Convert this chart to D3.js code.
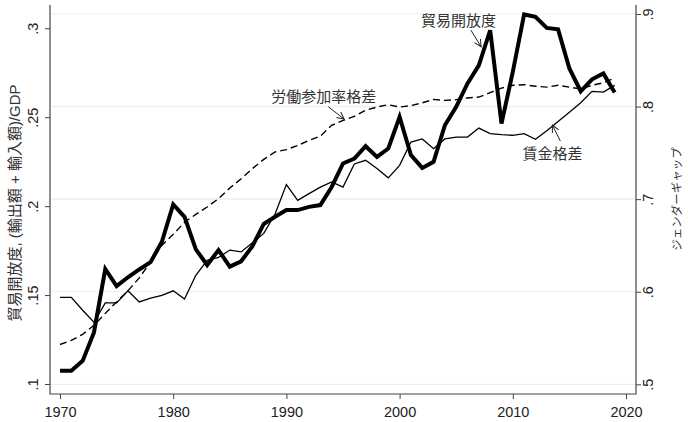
<!DOCTYPE html>
<html>
<head>
<meta charset="utf-8">
<script src="https://cdn.jsdelivr.net/npm/d3@7"></script>
<style>
  body { margin: 0; background: #fff; }
  svg { display: block; }
  text { font-family: "Liberation Sans", Arial, "Noto Sans CJK JP", sans-serif; fill: #333; }
</style>
</head>
<body>
<div id="chart"></div>
<script>
'use strict';

/***************************** data ********************************/

var years = d3.range(1970, 2020);

// 貿易開放度 (left axis)
var tradeOpenness = [
  0.1075, 0.1075, 0.113, 0.129, 0.1646, 0.155, 0.160, 0.1644, 0.1685, 0.180,
  0.201, 0.194, 0.1757, 0.1669, 0.1753, 0.166, 0.169, 0.1775, 0.190, 0.194,
  0.1978, 0.1978, 0.1996, 0.2006, 0.2108, 0.224, 0.2268, 0.2337, 0.2277, 0.2324,
  0.2502, 0.2287, 0.2215, 0.2249, 0.2455, 0.2558, 0.269, 0.2792, 0.2989, 0.2464,
  0.2755, 0.3078, 0.3064, 0.3002, 0.2994, 0.2774, 0.2646, 0.2713, 0.2746, 0.2639
];

// 賃金格差 (right axis)
var wageGap = [
  0.594, 0.594, 0.580, 0.567, 0.588, 0.588, 0.601, 0.589, 0.593, 0.596,
  0.601, 0.592, 0.6177, 0.634, 0.637, 0.645, 0.643, 0.653, 0.663, 0.684,
  0.7157, 0.6987, 0.706, 0.713, 0.7185, 0.713, 0.738, 0.742, 0.733, 0.723,
  0.7365, 0.7617, 0.765, 0.7545, 0.765, 0.767, 0.767, 0.7768, 0.7707, 0.7696,
  0.769, 0.7707, 0.7646, 0.774, 0.784, 0.794, 0.8042, 0.8164, 0.8157, 0.8229
];

// 労働参加率格差 (right axis)
var laborGap = [
  0.543, 0.5475, 0.554, 0.5637, 0.5766, 0.589, 0.601, 0.615, 0.632, 0.650,
  0.662, 0.675, 0.6836, 0.6915, 0.7005, 0.712, 0.722, 0.733, 0.743, 0.751,
  0.7535, 0.758, 0.7635, 0.768, 0.7797, 0.785, 0.7894, 0.796, 0.7995, 0.802,
  0.7995, 0.801, 0.804, 0.8078, 0.8067, 0.8075, 0.8093, 0.8103, 0.815, 0.820,
  0.823, 0.8236, 0.822, 0.821, 0.823, 0.821, 0.819, 0.823, 0.8257, 0.8308
];

var xTicks = [1970, 1980, 1990, 2000, 2010, 2020];
var leftTicks = [0.1, 0.15, 0.2, 0.25, 0.3];
var leftTickLabels = ['.1', '.15', '.2', '.25', '.3'];
var rightTicks = [0.5, 0.6, 0.7, 0.8, 0.9];
var rightTickLabels = ['.5', '.6', '.7', '.8', '.9'];

// labels with arrows, in data units (year, right axis value)
var labelText = ['貿易開放度', '労働参加率格差', '賃金格差'];
var labelPos = [[2005.2, 0.8924], [1993.3, 0.8103], [2013.5, 0.7488]];
var arrowFrom = [[2006.3, 0.8825], [1993.7, 0.7998], [2014.2, 0.7627]];
var arrowTo = [[2007.2, 0.8646], [1995.1, 0.7865], [2013.5, 0.7800]];

/**************************** layout *******************************/

var width = 688, height = 422;
var plotLeft = 50, plotRight = 636, plotTop = 5, plotBottom = 394;

var svg = d3.select('#chart').append('svg')
  .attr('width', width)
  .attr('height', height);

var x = d3.scaleLinear().domain([1970, 2020]).range([60, 626]);
var yLeft = d3.scaleLinear().domain([0.1, 0.3]).range([384, 28.3]);
var yRight = d3.scaleLinear().domain([0.5, 0.9]).range([384.3, 14]);

var axisColor = '#444';

/**************************** grid *********************************/

svg.append('g').selectAll('line')
  .data(rightTicks)
  .enter().append('line')
  .attr('x1', plotLeft + 1).attr('x2', plotRight - 1)
  .attr('y1', function(d) { return yRight(d); })
  .attr('y2', function(d) { return yRight(d); })
  .style('stroke', '#e6eff2')
  .style('stroke-width', 1.2);

/**************************** axes *********************************/

var xAxis = svg.append('g')
  .attr('transform', 'translate(0,' + plotBottom + ')')
  .call(d3.axisBottom(x).tickValues(xTicks).tickSize(5).tickFormat(d3.format('d')));
xAxis.select('.domain').remove();
xAxis.selectAll('line').style('stroke', axisColor);
xAxis.selectAll('text').style('font-size', '14.5px').attr('dy', '1.05em').style('fill', '#222');

var leftAxis = svg.append('g')
  .attr('transform', 'translate(' + plotLeft + ',0)')
  .call(d3.axisLeft(yLeft).tickValues(leftTicks).tickSize(5)
    .tickFormat(function(d, i) { return leftTickLabels[i]; }));
leftAxis.select('.domain').remove();
leftAxis.selectAll('line').style('stroke', axisColor);
leftAxis.selectAll('text')
  .attr('x', null).attr('dy', null)
  .attr('transform', 'translate(-12,0) rotate(-90)')
  .style('text-anchor', 'middle')
  .style('font-size', '14.5px').style('fill', '#222');

var rightAxis = svg.append('g')
  .attr('transform', 'translate(' + plotRight + ',0)')
  .call(d3.axisRight(yRight).tickValues(rightTicks).tickSize(5)
    .tickFormat(function(d, i) { return rightTickLabels[i]; }));
rightAxis.select('.domain').remove();
rightAxis.selectAll('line').style('stroke', axisColor);
rightAxis.selectAll('text')
  .attr('x', null).attr('dy', null)
  .attr('transform', 'translate(17,0) rotate(-90)')
  .style('text-anchor', 'middle')
  .style('font-size', '14.5px').style('fill', '#222');

// axis lines
svg.append('path')
  .attr('d', 'M' + plotLeft + ',' + plotTop + 'V' + plotBottom + 'H' + plotRight + 'V' + plotTop)
  .style('fill', 'none')
  .style('stroke', axisColor)
  .style('stroke-width', 1.2);

// axis titles
svg.append('text')
  .attr('transform', 'translate(15,' + 203 + ') rotate(-90)')
  .attr('dy', '0.35em')
  .style('text-anchor', 'middle')
  .style('font-size', '15px')
  .text('貿易開放度, (輸出額 + 輸入額)/GDP');

svg.append('text')
  .attr('transform', 'translate(677,' + 199 + ') rotate(-90)')
  .attr('dy', '0.35em')
  .style('text-anchor', 'middle')
  .style('font-size', '11.5px')
  .text('ジェンダーギャップ');

/**************************** lines ********************************/

function drawSeries(values, scale, width, dash) {
  var line = d3.line()
    .x(function(d, i) { return x(years[i]); })
    .y(function(d) { return scale(d); });
  svg.append('path')
    .datum(values)
    .attr('d', line)
    .style('fill', 'none')
    .style('stroke', '#000')
    .style('stroke-width', width)
    .style('stroke-dasharray', dash || null);
}

drawSeries(laborGap, yRight, 1.4, '7,4');
drawSeries(wageGap, yRight, 1.3);
drawSeries(tradeOpenness, yLeft, 4);

/************************** annotations ****************************/

svg.append('defs').append('marker')
  .attr('id', 'arrowHead')
  .attr('viewBox', '-10 -6 12 12')
  .attr('markerWidth', 12).attr('markerHeight', 12)
  .attr('markerUnits', 'userSpaceOnUse')
  .attr('orient', 'auto')
  .append('path')
  .attr('d', 'M-7,-3.5L0,0L-7,3.5')
  .style('fill', 'none')
  .style('stroke', '#222')
  .style('stroke-width', 1);

for (var i = 0; i < labelText.length; i++) {
  svg.append('text')
    .attr('x', x(labelPos[i][0]))
    .attr('y', yRight(labelPos[i][1]))
    .attr('dy', '0.35em')
    .style('text-anchor', 'middle')
    .style('font-size', '15px')
    .text(labelText[i]);

  svg.append('line')
    .attr('x1', x(arrowFrom[i][0])).attr('y1', yRight(arrowFrom[i][1]))
    .attr('x2', x(arrowTo[i][0])).attr('y2', yRight(arrowTo[i][1]))
    .style('stroke', '#222')
    .style('stroke-width', 1)
    .attr('marker-end', 'url(#arrowHead)');
}
</script>
</body>
</html>
